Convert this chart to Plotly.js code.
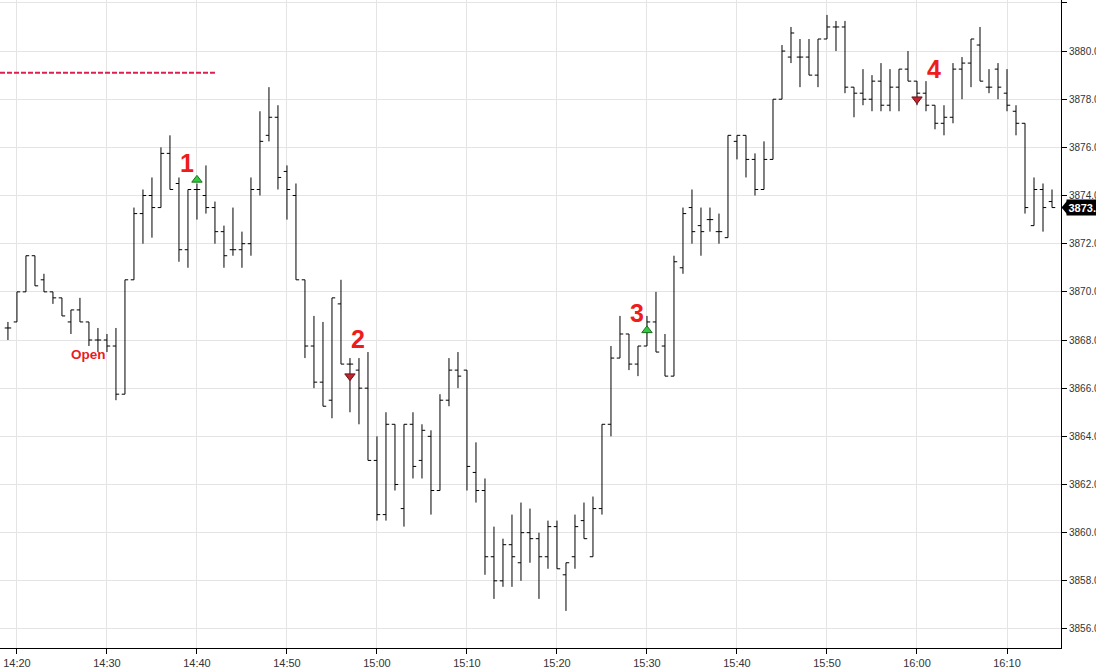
<!DOCTYPE html>
<html>
<head>
<meta charset="utf-8">
<script src="https://cdn.plot.ly/plotly-3.0.1.min.js"></script>
<style>html,body{margin:0;padding:0;background:#fff;overflow:hidden}#chart{width:1096px;height:669px}</style>
</head>
<body>
<div id="chart"></div>
<script>
const day = "2024-01-02 ";
const times = ["14:19","14:20","14:21","14:22","14:23","14:24","14:25","14:26","14:27","14:28","14:29","14:30","14:31","14:32",
"14:33","14:34","14:35","14:36","14:37","14:38","14:39","14:40","14:41","14:42","14:43","14:44","14:45","14:46","14:47","14:48","14:49","14:50","14:51",
"14:52","14:53","14:54","14:55","14:56","14:57","14:58","14:59","15:00","15:01","15:02","15:03","15:04","15:05","15:06","15:07","15:08","15:09","15:10",
"15:11","15:12","15:13","15:14","15:15","15:16","15:17","15:18","15:19","15:20","15:21","15:22","15:23","15:24","15:25","15:26",
"15:27","15:28","15:29","15:30","15:31","15:32","15:33","15:34","15:35","15:36","15:37","15:38",
"15:39","15:40","15:41","15:42","15:43","15:44","15:45","15:46","15:47","15:48","15:49","15:50","15:51","15:52","15:53","15:54","15:55","15:56","15:57",
"15:58","15:59","16:00","16:01","16:02","16:03","16:04","16:05","16:06","16:07","16:08","16:09","16:10","16:11","16:12","16:13","16:14","16:15"];

const opens = [3868.5,3868.75,3870.0,3871.5,3870.5,3870.0,3869.75,3868.75,3869.25,3868.75,3868.0,3868.0,3867.75,3865.75,
3870.5,3873.25,3874.0,3873.5,3875.75,3874.5,3871.75,3874.25,3874.0,3873.5,3872.5,3871.75,3871.75,3872.0,3874.25,3876.5,3877.25,3875.0,3874.0,
3870.5,3867.75,3866.25,3865.5,3869.5,3867.0,3866.75,3866.0,3863.0,3860.75,3864.5,3861.0,3864.5,3863.0,3864.0,3861.75,3865.5,3866.75,3866.75,
3862.5,3861.75,3859.0,3858.0,3859.5,3858.75,3860.0,3859.75,3859.0,3860.25,3858.25,3859.0,3860.5,3859.0,3861.0,3864.5,
3867.25,3868.25,3867.0,3867.75,3868.75,3867.75,3866.5,3871.0,3873.5,3872.75,3873.0,3872.5,
3872.25,3876.25,3876.5,3875.5,3874.25,3875.5,3878.0,3879.75,3879.75,3879.75,3879.0,3880.5,3881.0,3881.0,3878.5,3878.25,3878.0,3878.75,3877.75,
3878.5,3879.25,3878.75,3878.25,3877.75,3877.0,3877.25,3879.25,3879.5,3880.25,3878.5,3879.25,3878.25,3877.5,3877.0,3872.75,3874.25,3873.75];

const highs = [3868.75,3870.0,3871.5,3871.5,3870.75,3870.0,3869.75,3869.25,3869.75,3868.75,3868.5,3868.25,3868.5,3870.5,
3873.5,3874.25,3874.75,3876.0,3876.5,3874.75,3874.25,3874.5,3875.25,3873.75,3872.75,3873.5,3872.5,3874.75,3877.5,3878.5,3877.75,3875.25,3874.5,
3870.5,3869.0,3868.75,3869.75,3870.5,3867.25,3867.25,3867.5,3864.0,3865.0,3864.5,3864.5,3865.0,3864.5,3864.25,3865.75,3867.25,3867.5,3866.75,
3863.75,3862.25,3860.25,3859.75,3860.75,3861.25,3861.0,3860.0,3860.5,3860.5,3858.75,3860.75,3861.25,3861.5,3864.5,3867.75,
3869.0,3868.25,3867.75,3869.0,3870.0,3868.25,3871.5,3873.5,3874.25,3873.5,3873.5,3873.25,
3876.5,3876.5,3876.5,3875.75,3876.25,3878.0,3880.25,3881.0,3880.5,3880.5,3880.5,3881.5,3881.25,3881.25,3878.5,3879.25,3879.0,3879.5,3879.25,
3879.25,3880.0,3878.75,3878.75,3877.75,3877.75,3879.5,3879.75,3880.5,3881.0,3879.25,3879.5,3879.25,3877.75,3877.0,3874.75,3874.5,3874.25];

const lows = [3868.0,3868.75,3870.0,3870.25,3870.0,3869.5,3869.0,3868.25,3868.75,3867.75,3867.5,3867.5,3865.5,3865.75,
3870.5,3872.0,3872.25,3873.5,3874.25,3871.25,3871.0,3873.0,3873.25,3872.0,3871.0,3871.5,3871.0,3871.5,3874.0,3876.25,3874.25,3873.0,3870.5,
3867.25,3866.0,3865.25,3864.75,3867.0,3865.0,3864.5,3863.0,3860.5,3860.5,3861.75,3860.25,3862.25,3862.25,3860.75,3861.75,3865.25,3866.0,3861.75,
3861.25,3858.25,3857.25,3857.75,3857.75,3858.0,3858.75,3857.25,3858.5,3858.5,3856.75,3858.5,3859.75,3859.0,3860.75,3864.0,
3867.25,3866.75,3866.5,3867.75,3867.5,3866.5,3866.5,3870.75,3872.0,3871.5,3872.5,3872.0,
3872.25,3875.5,3874.75,3874.0,3874.25,3875.5,3878.0,3879.5,3878.5,3879.0,3878.5,3880.5,3880.0,3878.25,3877.25,3877.75,3877.5,3877.5,3877.5,
3877.5,3878.75,3877.75,3877.5,3876.75,3876.5,3877.0,3878.0,3878.5,3878.75,3878.25,3878.0,3877.5,3876.5,3873.25,3872.75,3872.5,3873.5];

const closes = [3868.5,3870.0,3871.5,3870.25,3870.0,3869.75,3869.0,3869.25,3868.75,3868.0,3868.0,3867.75,3865.75,3870.5,
3873.25,3874.0,3873.5,3875.75,3874.25,3871.75,3874.25,3874.25,3873.5,3872.5,3871.5,3871.75,3872.0,3874.25,3876.25,3877.25,3874.75,3874.25,3870.5,
3867.75,3866.25,3865.25,3869.75,3867.0,3867.0,3866.0,3863.0,3860.75,3864.5,3862.0,3864.5,3862.75,3864.25,3861.75,3865.5,3866.75,3866.5,3862.75,
3861.75,3859.0,3858.0,3859.5,3859.0,3860.0,3859.75,3859.0,3860.25,3858.5,3858.75,3860.25,3859.75,3861.0,3864.5,3867.25,
3868.25,3867.0,3867.75,3868.75,3867.5,3866.5,3871.25,3873.25,3872.5,3872.5,3873.0,3872.5,
3876.5,3876.5,3875.5,3874.25,3875.5,3878.0,3880.0,3880.75,3879.75,3879.0,3880.5,3881.0,3881.0,3878.5,3878.25,3878.0,3878.75,3877.75,3878.5,
3879.25,3878.75,3878.25,3877.75,3877.0,3877.25,3879.25,3879.5,3880.5,3878.75,3878.5,3878.5,3877.75,3877.0,3873.5,3874.25,3873.5,3873.5];

// trade signals
const signalTimes = ["14:40","14:57","15:30","16:00"];
const signalPrices = [3874.65,3866.5,3868.4,3878.0];
const signalLabels = ["1","2","3","4"];
const signalDirections = ["up","down","up","down"];

// reference level (dashed) and session-open label
const refLevel = 3879.1;
const refEndTime = "14:42";
const openLabelTime = "14:28";
const openLabelPrice = 3867.38;
const lastPrice = 3873.5;
const lastPriceText = "3873.50";

const X = t => day + t + (t.length === 5 ? ":00" : "");
const xStart = day + "14:18:07";
const xEnd = day + "16:16:00";
const yRange = [3855.21, 3882.12];

const traces = [{
  type: "ohlc",
  x: times.map(X), open: opens, high: highs, low: lows, close: closes,
  increasing: {line: {color: "#000", width: 1}},
  decreasing: {line: {color: "#000", width: 1}},
  tickwidth: 0.36, hoverinfo: "skip"
}];

const upIdx = signalDirections.map((d,i)=>d==="up"?i:-1).filter(i=>i>=0);
const dnIdx = signalDirections.map((d,i)=>d==="down"?i:-1).filter(i=>i>=0);
traces.push({
  type: "scatter", mode: "markers",
  x: upIdx.map(i=>X(signalTimes[i])), y: upIdx.map(i=>signalPrices[i]),
  marker: {symbol: "triangle-up", size: 9, color: "#2ecc40", line: {color: "#1a6e1a", width: 1}},
  hoverinfo: "skip"
});
traces.push({
  type: "scatter", mode: "markers",
  x: dnIdx.map(i=>X(signalTimes[i])), y: dnIdx.map(i=>signalPrices[i]),
  marker: {symbol: "triangle-down", size: 9, color: "#c0262d", line: {color: "#6e1015", width: 1}},
  hoverinfo: "skip"
});

const labelOffsets = [[-10,16.5],[8.5,37],[-9.5,17.5],[17,30]];
const annotations = signalLabels.map((s,i)=>({
  x: X(signalTimes[i]), y: signalPrices[i], xref: "x", yref: "y",
  text: "<b>"+s+"</b>", showarrow: false,
  xshift: labelOffsets[i][0], yshift: labelOffsets[i][1],
  font: {family: "Liberation Sans, Arial, sans-serif", size: 25, color: "#ee1c1c"}
}));
annotations.push({
  x: X(openLabelTime), y: openLabelPrice, xref: "x", yref: "y",
  text: "<b>Open</b>", showarrow: false,
  font: {family: "Liberation Sans, Arial, sans-serif", size: 13.5, color: "#e81c24"}
});
annotations.push({
  x: 1, xref: "paper", xanchor: "left", xshift: 5,
  y: lastPrice, yref: "y", yanchor: "middle",
  text: "<b>"+lastPriceText+"</b>", showarrow: false,
  bgcolor: "#000", borderpad: 1.5,
  font: {family: "Liberation Sans, Arial, sans-serif", size: 11, color: "#fff"}
});

const shapes = [
  {type: "line", xref: "x", yref: "y", x0: xStart, x1: X(refEndTime), y0: refLevel, y1: refLevel,
   line: {color: "#dc1f4f", width: 2, dash: "5px,2px"}},
  {type: "path", xref: "paper", yref: "y",
   path: "M 1.0005," + lastPrice + " L 1.0062," + (lastPrice+0.30) + " L 1.0062," + (lastPrice-0.30) + " Z",
   fillcolor: "#000", line: {width: 0}}
];

const xTickFont = {family: "Liberation Sans, Arial, sans-serif", size: 11, color: "#333"};
const yTickFont = {family: "Liberation Sans, Arial, sans-serif", size: 10, color: "#333"};
const layout = {
  width: 1096, height: 669,
  margin: {l: 0, r: 35, t: 0, b: 21, pad: 0},
  paper_bgcolor: "#fff", plot_bgcolor: "#fff",
  showlegend: false,
  xaxis: {
    type: "date", range: [xStart, xEnd],
    tick0: day + "14:20:00", dtick: 600000, tickformat: "%H:%M",
    showgrid: true, gridcolor: "#e4e4e4", gridwidth: 1,
    showline: true, linecolor: "#000", linewidth: 1,
    ticks: "outside", ticklen: 5, tickcolor: "#000",
    tickfont: xTickFont, zeroline: false, fixedrange: true,
    rangeslider: {visible: false}
  },
  yaxis: {
    side: "right", range: yRange, tick0: 3856, dtick: 2, tickformat: ".2f",
    showgrid: true, gridcolor: "#e4e4e4", gridwidth: 1,
    showline: true, linecolor: "#000", linewidth: 1,
    ticks: "outside", ticklen: 5, tickcolor: "#000",
    tickfont: yTickFont, zeroline: false, fixedrange: true
  },
  annotations: annotations,
  shapes: shapes
};

Plotly.newPlot("chart", traces, layout, {displayModeBar: false, staticPlot: true});
</script>
</body>
</html>
